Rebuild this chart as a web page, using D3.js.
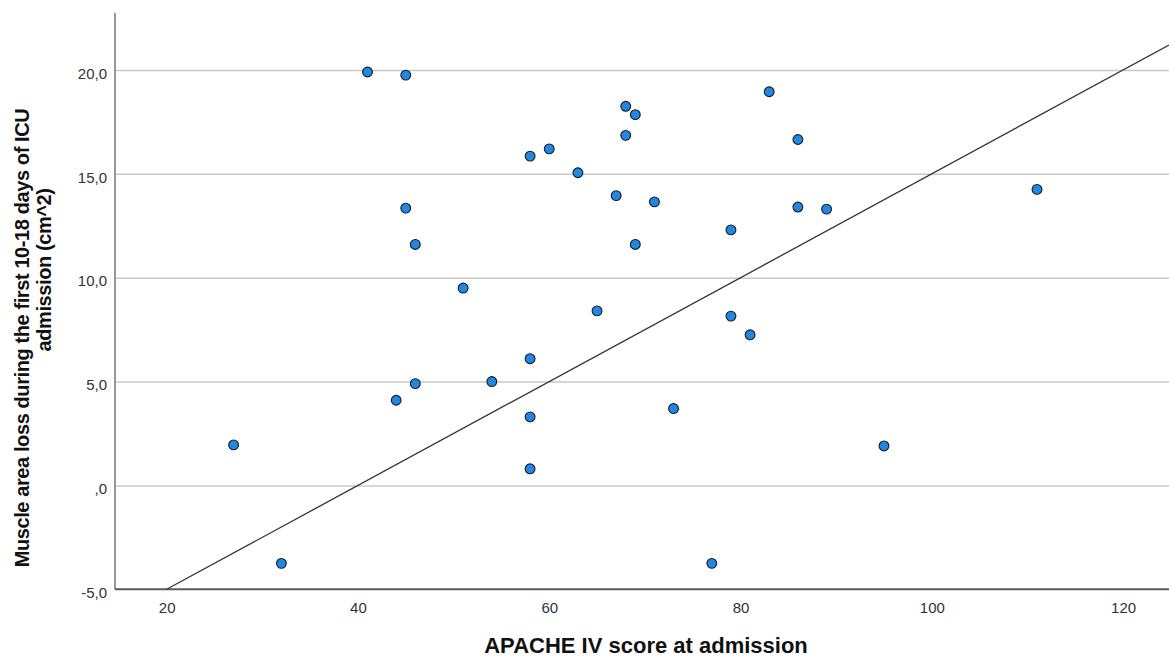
<!DOCTYPE html>
<html>
<head>
<meta charset="utf-8">
<script src="https://cdn.jsdelivr.net/npm/d3@7"></script>
<style>
  body { margin: 0; background: #fff; }
  svg { display: block; font-family: "Liberation Sans", Arial, sans-serif; }
  .grid line { stroke: #c8c8c8; stroke-width: 1.5; }
  .grid path { display: none; }
  .axis path { display: none; }
  .axis text { fill: #333; font-size: 15px; }
</style>
</head>
<body>
<div id="chart"></div>
<script>
// APACHE IV score (x) and muscle area loss in cm^2 (y)
var apache = [27, 32, 41, 45, 45, 46, 44, 46, 51, 54, 58, 60, 58, 58, 58, 63, 65,
              67, 68, 69, 68, 71, 69, 73, 77, 79, 79, 81, 83, 86, 86, 89, 95, 111];
var muscleLoss = [1.95, -3.75, 19.9, 19.75, 13.35, 11.6, 4.1, 4.9, 9.5, 5.0, 15.85, 16.2,
                  6.1, 3.3, 0.8, 15.05, 8.4, 13.95, 18.25, 17.85, 16.85, 13.65, 11.6, 3.7,
                  -3.75, 12.3, 8.15, 7.25, 18.95, 16.65, 13.4, 13.3, 1.9, 14.25];

var xTicks = [20, 40, 60, 80, 100, 120];
var yTicks = [-5, 0, 5, 10, 15, 20];
var yTickLabels = ["-5,0", ",0", "5,0", "10,0", "15,0", "20,0"];

// fit line, y = intercept + slope * x, starting at x = 20
var fitIntercept = -10;
var fitSlope = 0.25;
var fitStart = 20;

var width = 1169, height = 658;
var plotLeft = 115, plotRight = 1169, plotTop = 13, plotBottom = 589.3;

var x = d3.scaleLinear().domain([14.6, 124.8]).range([plotLeft, plotRight]);
var y = d3.scaleLinear().domain([-5, 22.74]).range([plotBottom, plotTop]);

var svg = d3.select("#chart").append("svg")
    .attr("width", width)
    .attr("height", height);

// horizontal grid
svg.append("g")
    .attr("class", "grid")
    .attr("transform", "translate(" + plotLeft + ",0)")
    .call(d3.axisLeft(y).tickValues(yTicks.filter(function(d) { return d > -5; }))
        .tickSize(-(plotRight - plotLeft)).tickFormat(""));

// y axis line
svg.append("line")
    .attr("x1", plotLeft).attr("x2", plotLeft)
    .attr("y1", plotTop).attr("y2", plotBottom)
    .attr("stroke", "#8c8c8c").attr("stroke-width", 1.8);

// x axis line
svg.append("line")
    .attr("x1", plotLeft).attr("x2", plotRight)
    .attr("y1", plotBottom).attr("y2", plotBottom)
    .attr("stroke", "#5a5a5a").attr("stroke-width", 2);

var yAxis = svg.append("g")
    .attr("class", "axis")
    .attr("transform", "translate(" + plotLeft + ",0)")
    .call(d3.axisLeft(y).tickValues(yTicks).tickSize(0).tickPadding(8)
        .tickFormat(function(d, i) { return yTickLabels[i]; }));
yAxis.selectAll("text").attr("dy", "0.55em");

svg.append("g")
    .attr("class", "axis")
    .attr("transform", "translate(0," + plotBottom + ")")
    .call(d3.axisBottom(x).tickValues(xTicks).tickSize(0).tickPadding(13)
        .tickFormat(d3.format("d")));

// fit line
svg.append("clipPath").attr("id", "plot")
    .append("rect")
    .attr("x", plotLeft).attr("y", plotTop)
    .attr("width", plotRight - plotLeft).attr("height", plotBottom - plotTop);

var fitEnd = x.domain()[1];
svg.append("line")
    .attr("clip-path", "url(#plot)")
    .attr("x1", x(fitStart)).attr("y1", y(fitIntercept + fitSlope * fitStart))
    .attr("x2", x(fitEnd)).attr("y2", y(fitIntercept + fitSlope * fitEnd))
    .attr("stroke", "#333").attr("stroke-width", 1.3);

// points
svg.append("g")
    .selectAll("circle")
    .data(apache)
    .enter().append("circle")
    .attr("cx", function(d) { return x(d); })
    .attr("cy", function(d, i) { return y(muscleLoss[i]); })
    .attr("r", 4.9)
    .attr("fill", "#1e88e5")
    .attr("stroke", "#1a1a1a")
    .attr("stroke-width", 1.1);

// axis titles
svg.append("text")
    .attr("x", 646).attr("y", 653)
    .attr("text-anchor", "middle")
    .attr("font-size", 22)
    .attr("font-weight", "bold")
    .attr("fill", "#111")
    .text("APACHE IV score at admission");

svg.append("text")
    .attr("transform", "translate(29,338) rotate(-90)")
    .attr("text-anchor", "middle")
    .attr("font-size", 20)
    .attr("font-weight", "bold")
    .attr("letter-spacing", "-0.4")
    .attr("fill", "#111")
    .text("Muscle area loss during the first 10-18 days of ICU");

svg.append("text")
    .attr("transform", "translate(51,270) rotate(-90)")
    .attr("text-anchor", "middle")
    .attr("font-size", 20)
    .attr("font-weight", "bold")
    .attr("letter-spacing", "-0.4")
    .attr("fill", "#111")
    .text("admission (cm^2)");
</script>
</body>
</html>
